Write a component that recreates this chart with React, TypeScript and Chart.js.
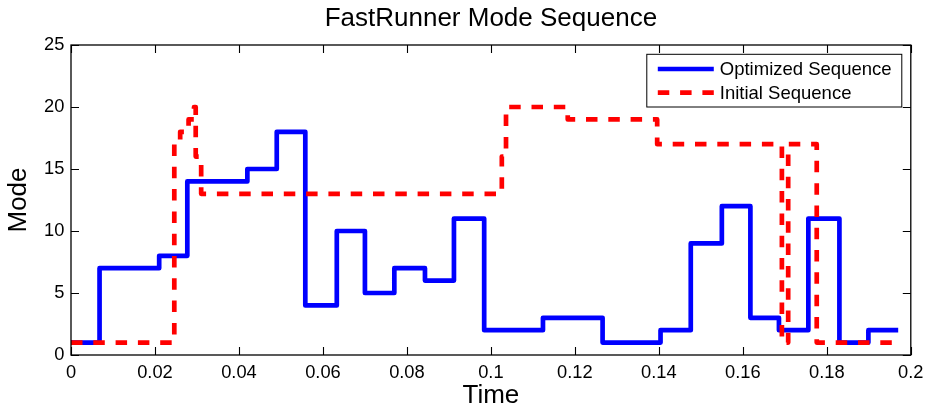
import React, { useEffect, useRef } from "react";
import { Chart, registerables } from "chart.js";

Chart.register(...registerables);

const chartTitle = "FastRunner Mode Sequence";
const xAxisLabel = "Time";
const yAxisLabel = "Mode";

const optimizedLabel = "Optimized Sequence";
const optimizedTimes = [
  0, 0.0068, 0.021, 0.0277, 0.042, 0.049, 0.0558, 0.0633, 0.07, 0.077, 0.0843,
  0.0912, 0.0984, 0.1124, 0.1266, 0.1404, 0.1476, 0.155, 0.1618, 0.1686,
  0.1756, 0.183, 0.1899, 0.197,
];
const optimizedModes = [
  1, 7, 8, 14, 15, 18, 4, 10, 5, 7, 6, 11, 2, 3, 1, 2, 9, 12, 3, 2, 11, 1, 2, 2,
];

const initialLabel = "Initial Sequence";
const initialTimes = [
  0, 0.0246, 0.026, 0.028, 0.0293, 0.0297, 0.031, 0.1026, 0.1036, 0.1183,
  0.1396, 0.1693, 0.1708, 0.1776, 0.197,
];
const initialModes = [1, 17, 18, 19, 20, 16, 13, 16, 20, 19, 17, 1, 17, 1, 1];

const xTickValues = [0, 0.02, 0.04, 0.06, 0.08, 0.1, 0.12, 0.14, 0.16, 0.18, 0.2];
const xTickLabels = ["0", "0.02", "0.04", "0.06", "0.08", "0.1", "0.12", "0.14", "0.16", "0.18", "0.2"];
const yTickValues = [0, 5, 10, 15, 20, 25];
const yTickLabels = ["0", "5", "10", "15", "20", "25"];

const FONT = "'Liberation Sans', Arial, Helvetica, sans-serif";

const matlabFrame = {
  id: "matlabFrame",
  afterDatasetsDraw(chart: any) {
    const { ctx, chartArea: a, scales } = chart;
    const xs = scales.x;
    const ys = scales.y;
    const tl = 8;
    ctx.save();
    ctx.strokeStyle = "#000";
    ctx.lineWidth = 1.1;
    ctx.beginPath();
    xTickValues.forEach((v) => {
      const px = Math.round(xs.getPixelForValue(v)) + 0.5;
      ctx.moveTo(px, a.bottom);
      ctx.lineTo(px, a.bottom - tl);
      ctx.moveTo(px, a.top);
      ctx.lineTo(px, a.top + tl);
    });
    yTickValues.forEach((v) => {
      const py = Math.round(ys.getPixelForValue(v)) + 0.5;
      ctx.moveTo(a.left, py);
      ctx.lineTo(a.left + tl, py);
      ctx.moveTo(a.right, py);
      ctx.lineTo(a.right - tl, py);
    });
    ctx.stroke();
    ctx.lineWidth = 1.3;
    ctx.strokeRect(a.left, a.top, a.right - a.left, a.bottom - a.top);

    // title, centred over the plot area
    ctx.fillStyle = "#000";
    ctx.font = `26px ${FONT}`;
    ctx.textAlign = "center";
    ctx.textBaseline = "middle";
    ctx.fillText(chartTitle, (a.left + a.right) / 2, 18.6);

    // legend box
    const bw = 255;
    const bh = 52.7;
    const bx = a.right - 9 - bw;
    const by = a.top + 9.3;
    ctx.fillStyle = "#fff";
    ctx.fillRect(bx, by, bw, bh);
    ctx.lineWidth = 1;
    ctx.strokeStyle = "#000";
    ctx.strokeRect(bx, by, bw, bh);
    const rows = [by + 14.7, by + 38.4];
    chart.data.datasets.forEach((ds: any, i: number) => {
      const y = rows[i];
      ctx.save();
      ctx.strokeStyle = ds.borderColor;
      ctx.lineWidth = ds.borderWidth;
      ctx.lineCap = "butt";
      ctx.setLineDash(ds.borderDash || []);
      ctx.beginPath();
      ctx.moveTo(bx + 11, y);
      ctx.lineTo(bx + 67, y);
      ctx.stroke();
      ctx.restore();
      ctx.fillStyle = "#000";
      ctx.font = `18.5px ${FONT}`;
      ctx.textBaseline = "middle";
      ctx.textAlign = "left";
      ctx.fillText(ds.label, bx + 73, y + 1);
    });
    ctx.restore();
  },
};

export default function App() {
  const ref = useRef<HTMLCanvasElement | null>(null);

  useEffect(() => {
    if (!ref.current) return;
    const chart = new Chart(ref.current, {
      type: "line",
      data: {
        datasets: [
          {
            label: optimizedLabel,
            data: optimizedTimes.map((t, i) => ({ x: t, y: optimizedModes[i] })),
            borderColor: "#0000ff",
            borderWidth: 4.7,
            stepped: "before",
            pointRadius: 0,
            fill: false,
            borderJoinStyle: "round",
            borderCapStyle: "butt",
            order: 1,
          },
          {
            label: initialLabel,
            data: initialTimes.map((t, i) => ({ x: t, y: initialModes[i] })),
            borderColor: "#ff0000",
            borderWidth: 4.7,
            borderDash: [11.5, 10.8],
            stepped: "before",
            pointRadius: 0,
            fill: false,
            borderJoinStyle: "round",
            borderCapStyle: "butt",
            order: 0,
          },
        ],
      },
      options: {
        animation: false,
        responsive: false,
        devicePixelRatio: 1,
        layout: { padding: { left: 0, right: 15.5, top: 45, bottom: 0 } },
        plugins: {
          legend: { display: false },
          tooltip: { enabled: false },
          title: { display: false },
        },
        scales: {
          x: {
            type: "linear",
            min: 0,
            max: 0.2,
            grid: { display: false, drawTicks: false },
            border: { display: false },
            afterBuildTicks: (s: any) => {
              s.ticks = xTickValues.map((v) => ({ value: v }));
            },
            afterFit: (s: any) => {
              s.height = 54;
            },
            ticks: {
              color: "#000",
              font: { family: FONT, size: 18.3 },
              padding: 6.5,
              maxRotation: 0,
              autoSkip: false,
              callback: (_v: any, i: number) => xTickLabels[i],
            },
            title: {
              display: true,
              text: xAxisLabel,
              color: "#000",
              font: { family: FONT, size: 26, lineHeight: 1 },
              padding: { top: 0, bottom: 0 },
            },
          },
          y: {
            type: "linear",
            min: 0,
            max: 25,
            grid: { display: false, drawTicks: false },
            border: { display: false },
            afterBuildTicks: (s: any) => {
              s.ticks = yTickValues.map((v) => ({ value: v }));
            },
            afterFit: (s: any) => {
              s.width = 71;
            },
            ticks: {
              color: "#000",
              font: { family: FONT, size: 18.3 },
              padding: 6.7,
              autoSkip: false,
              callback: (_v: any, i: number) => yTickLabels[i],
            },
            title: {
              display: true,
              text: yAxisLabel,
              color: "#000",
              font: { family: FONT, size: 26, lineHeight: 1 },
              padding: { top: 6, bottom: 0 },
            },
          },
        },
      },
      plugins: [matlabFrame],
    } as any);
    return () => chart.destroy();
  }, []);

  return (
    <div style={{ position: "absolute", left: 0, top: 0, width: 930, height: 409, background: "#fff" }}>
      <canvas ref={ref} width={930} height={409} style={{ display: "block" }} />
    </div>
  );
}
